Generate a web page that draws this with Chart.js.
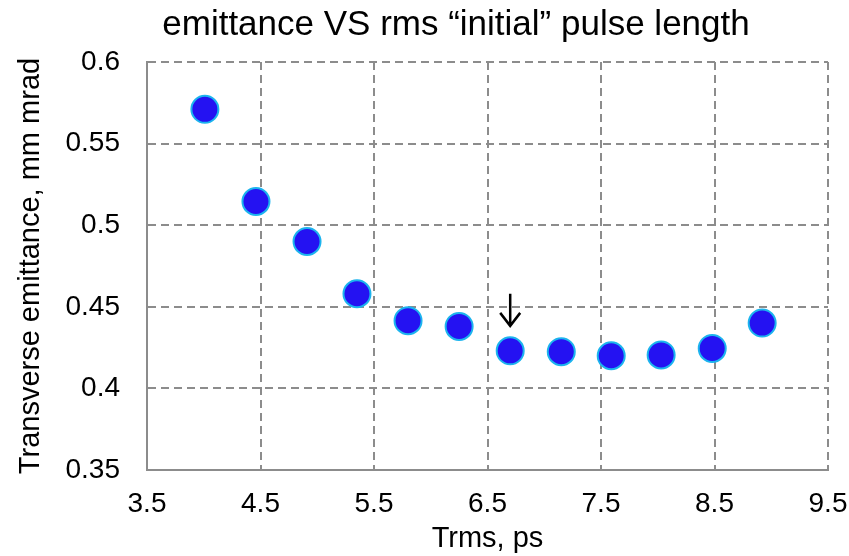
<!DOCTYPE html>
<html>
<head>
<meta charset="utf-8">
<script src="https://cdn.jsdelivr.net/npm/chart.js@4/dist/chart.umd.min.js"></script>
<style>
  html, body { margin: 0; padding: 0; background: #fff; }
  #wrap { width: 849px; height: 556px; }
</style>
</head>
<body>
<div id="wrap"><canvas id="c" width="849" height="556"></canvas></div>
<script>
// rms pulse length (ps) and measured transverse emittance (mm mrad)
const trms = [4.01, 4.46, 4.91, 5.35, 5.80, 6.25, 6.70, 7.15, 7.59, 8.03, 8.48, 8.92];
const emittance = [0.571, 0.5145, 0.490, 0.458, 0.4415, 0.438, 0.423, 0.4225, 0.420, 0.4205, 0.4245, 0.440];
const xTicks = [3.5, 4.5, 5.5, 6.5, 7.5, 8.5, 9.5];
const yTicks = [0.35, 0.4, 0.45, 0.5, 0.55, 0.6];
const markedIndex = 6; // point flagged with the arrow

const FONT = "'Liberation Sans', Arial, sans-serif";
const GRID = '#8c8c8c';

// title + arrow drawn by hand so they sit where we want them
const extras = {
  id: 'extras',
  afterDatasetsDraw(chart) {
    const ctx = chart.ctx;
    const pt = chart.getDatasetMeta(0).data[markedIndex];
    const x = pt.x, top = pt.y - 57, tip = pt.y - 25;
    ctx.save();
    ctx.strokeStyle = '#000';
    ctx.lineWidth = 2.5;
    ctx.beginPath();
    ctx.moveTo(x, top);
    ctx.lineTo(x, tip);
    ctx.moveTo(x - 10, tip - 13);
    ctx.lineTo(x, tip);
    ctx.lineTo(x + 10, tip - 13);
    ctx.stroke();

    ctx.fillStyle = '#000';
    ctx.font = '35px ' + FONT;
    ctx.textAlign = 'center';
    ctx.textBaseline = 'middle';
    ctx.fillText('emittance VS rms \u201cinitial\u201d pulse length', 456, 25);
    ctx.restore();
  }
};

new Chart(document.getElementById('c'), {
  type: 'scatter',
  data: {
    datasets: [{
      label: 'emittance',
      data: trms.map((t, i) => ({ x: t, y: emittance[i] })),
      pointRadius: 13.5,
      pointHoverRadius: 13.5,
      pointBorderWidth: 2,
      pointBackgroundColor: '#2412f2',
      pointBorderColor: '#1cb4ee'
    }]
  },
  options: {
    responsive: false,
    animation: false,
    layout: { padding: { top: 62, right: 0, left: 0, bottom: 0 } },
    plugins: {
      legend: { display: false },
      tooltip: { enabled: false },
      title: { display: false }
    },
    scales: {
      x: {
        type: 'linear',
        min: 3.5,
        max: 9.5,
        afterBuildTicks: s => { s.ticks = xTicks.map(v => ({ value: v })); },
        afterFit: s => { s.height = 86; s.paddingLeft = 0; s.paddingRight = 21; },
        grid: { color: GRID, lineWidth: 2, drawTicks: false },
        border: { display: true, color: GRID, width: 2, dash: [8, 5] },
        ticks: {
          color: '#000',
          padding: 17,
          font: { family: FONT, size: 28 },
          callback: v => String(v)
        },
        title: {
          display: true,
          text: 'Trms, ps',
          color: '#000',
          font: { family: FONT, size: 29 },
          padding: { top: 0, bottom: 0 }
        }
      },
      y: {
        type: 'linear',
        min: 0.35,
        max: 0.6,
        afterBuildTicks: s => { s.ticks = yTicks.map(v => ({ value: v })); },
        afterFit: s => { s.width = 147; },
        grid: { color: GRID, lineWidth: 2, drawTicks: false },
        border: { display: true, color: GRID, width: 2, dash: [8, 5] },
        ticks: {
          color: '#000',
          padding: 27,
          font: { family: FONT, size: 28 },
          callback: v => String(Number(v.toFixed(2)))
        },
        title: {
          display: true,
          text: 'Transverse emittance, mm mrad',
          color: '#000',
          font: { family: FONT, size: 29 },
          padding: { top: 14, bottom: 0 }
        }
      }
    }
  },
  plugins: [extras]
});
</script>
</body>
</html>
